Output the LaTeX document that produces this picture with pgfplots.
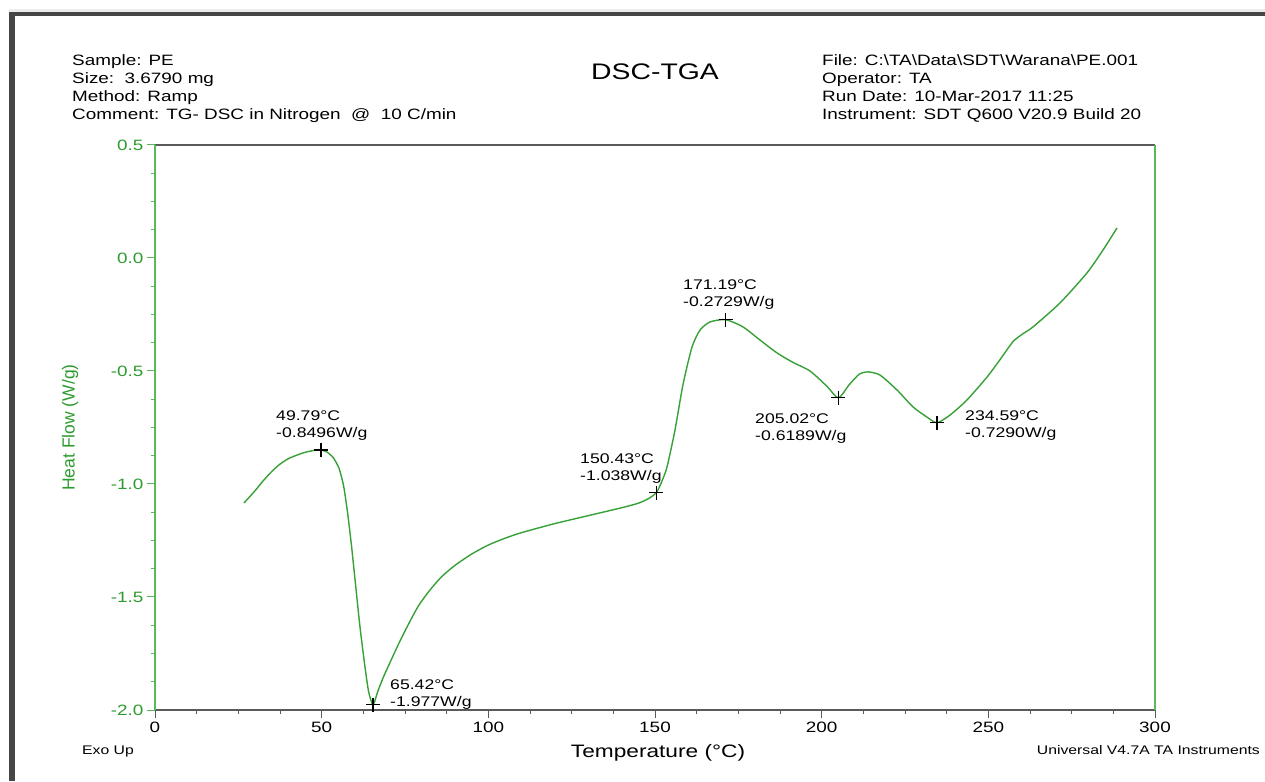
\documentclass[border=0pt]{standalone}
\usepackage{pgfplots}
\pgfplotsset{compat=1.18}
\usepackage{fontspec}
\setmainfont{Liberation Sans}[FakeStretch=1.26]
\newfontfamily\plainsans{Liberation Sans}
\definecolor{dscgreen}{RGB}{55,160,55}
\definecolor{axgreen}{RGB}{90,185,90}
\definecolor{lblgreen}{RGB}{45,155,45}
\definecolor{framegray}{RGB}{70,70,70}
\definecolor{axgray}{RGB}{90,90,90}
\begin{document}
\begin{tikzpicture}
\useasboundingbox (0pt,0pt) rectangle (1265pt,781pt);
\fill[white] (0pt,0pt) rectangle (1265pt,781pt);
\fill[gray!15] (9pt,769pt) rectangle (1265pt,772pt);
\fill[framegray] (9pt,0pt) rectangle (15pt,769pt);
\fill[framegray] (9pt,765pt) rectangle (1265pt,769pt);
% header
\begin{scope}[every node/.style={anchor=base west, inner sep=0pt, font=\fontsize{15}{18}\selectfont}]
\node at (72pt,715pt) {Sample: PE};
\node at (72pt,697pt) {Size:~~3.6790 mg};
\node at (72pt,679pt) {Method: Ramp};
\node at (72pt,661pt) {Comment: TG- DSC in Nitrogen ~@~ 10 C/min};
\node at (822pt,715pt) {File: C:\textbackslash TA\textbackslash Data\textbackslash SDT\textbackslash Warana\textbackslash PE.001};
\node at (822pt,697pt) {Operator: TA};
\node at (822pt,679pt) {Run Date: 10-Mar-2017 11:25};
\node at (822pt,661pt) {Instrument: SDT Q600 V20.9 Build 20};
\end{scope}
\node[anchor=base, inner sep=0pt, font=\fontsize{22.5}{24}\selectfont] at (655pt,701pt) {DSC-TGA};
\node[anchor=base west, inner sep=0pt, font=\fontsize{12.5}{14}\selectfont] at (82pt,27pt) {Exo Up};
\node[anchor=base east, inner sep=0pt, font=\fontsize{12.5}{14}\selectfont] at (1260pt,27pt) {Universal V4.7A TA Instruments};
\begin{axis}[
  at={(155pt,71pt)}, anchor=south west,
  width=1000pt, height=565pt, scale only axis,
  xmin=0, xmax=300, ymin=-2, ymax=0.5,
  xtick={0,50,...,300}, minor x tick num=3,
  ytick={-2,-1.5,...,0.5}, minor y tick num=3,
  xtick pos=left, ytick pos=left,
  tick align=outside,
  major tick length=8pt, minor tick length=4pt,
  separate axis lines,
  x axis line style={axgray, line width=1.2pt},
  y axis line style={axgreen, line width=1.5pt},
  xtick style={axgray, line width=1pt},
  ytick style={axgreen, line width=1pt},
  /pgf/number format/assume math mode=true,
  yticklabel style={lblgreen, /pgf/number format/fixed, /pgf/number format/fixed zerofill, /pgf/number format/precision=1, font=\fontsize{15}{18}\selectfont},
  xticklabel style={font=\fontsize{15}{18}\selectfont},
  xlabel={Temperature (°C)}, ylabel={Heat Flow (W/g)},
  xlabel style={at={(axis description cs:0.503,-0.0761)}, anchor=center, font=\fontsize{18}{20}\selectfont},
  ylabel style={at={(axis description cs:-0.085,0.5)}, anchor=center, lblgreen, font=\plainsans\fontsize{17.5}{19}\selectfont},
  clip=false,
]
\addplot[dscgreen, line width=1.4pt, smooth, tension=0.4] coordinates {
(26.7,-1.084) (30,-1.03) (32.5,-0.985) (35,-0.945) (37.5,-0.912) (40,-0.888)
(42.6,-0.872) (45,-0.86) (47.5,-0.852) (49.79,-0.8496) (51.5,-0.858) (53.4,-0.882)
(55.2,-0.93) (56.6,-1.01) (57.8,-1.13) (59,-1.28) (60.2,-1.45) (61.5,-1.633)
(63,-1.81) (64.1,-1.92) (65.42,-1.977) (66.9,-1.915) (68.5,-1.855) (70.5,-1.79)
(73,-1.71) (75.6,-1.633) (79,-1.54) (82.5,-1.469) (86,-1.41) (90,-1.36)
(95,-1.31) (100,-1.27) (105,-1.24) (110,-1.215) (120,-1.175) (130,-1.14)
(140,-1.105) (145,-1.085) (148,-1.065) (150.43,-1.038) (152,-0.99) (153.6,-0.925)
(156,-0.761) (158.4,-0.56) (161.1,-0.394) (163.5,-0.319) (166.5,-0.283) (171.19,-0.2729)
(176.4,-0.305) (181.5,-0.363) (186.6,-0.42) (191.4,-0.462) (196.5,-0.5) (201.6,-0.568)
(205.02,-0.6189) (208.3,-0.56) (211.3,-0.514) (213.9,-0.504) (217.5,-0.518) (222.6,-0.584)
(227.4,-0.659) (231.6,-0.704) (234.59,-0.729) (238.5,-0.695) (243.6,-0.628) (249.6,-0.527)
(253.5,-0.45) (257.4,-0.37) (260.4,-0.335) (263.4,-0.305) (271.5,-0.199) (279.6,-0.066)
(284.4,0.035) (288.6,0.133)
};
\addplot[only marks, mark=+, mark size=7pt, black, mark options={line width=1.2pt}] coordinates {
(49.79,-0.8496) (65.42,-1.977) (150.43,-1.038) (171.19,-0.2729) (205.02,-0.6189) (234.59,-0.7290)
};
\begin{scope}[every node/.style={anchor=north west, align=left, inner sep=0pt, font=\fontsize{14}{17}\selectfont}]
\node at (axis cs:36.3,-0.677) {49.79°C\\-0.8496W/g};
\node at (axis cs:70.5,-1.867) {65.42°C\\-1.977W/g};
\node at (axis cs:127.5,-0.867) {150.43°C\\-1.038W/g};
\node at (axis cs:158.4,-0.097) {171.19°C\\-0.2729W/g};
\node at (axis cs:180,-0.686) {205.02°C\\-0.6189W/g};
\node at (axis cs:243,-0.673) {234.59°C\\-0.7290W/g};
\end{scope}
\end{axis}
\end{tikzpicture}
\end{document}
